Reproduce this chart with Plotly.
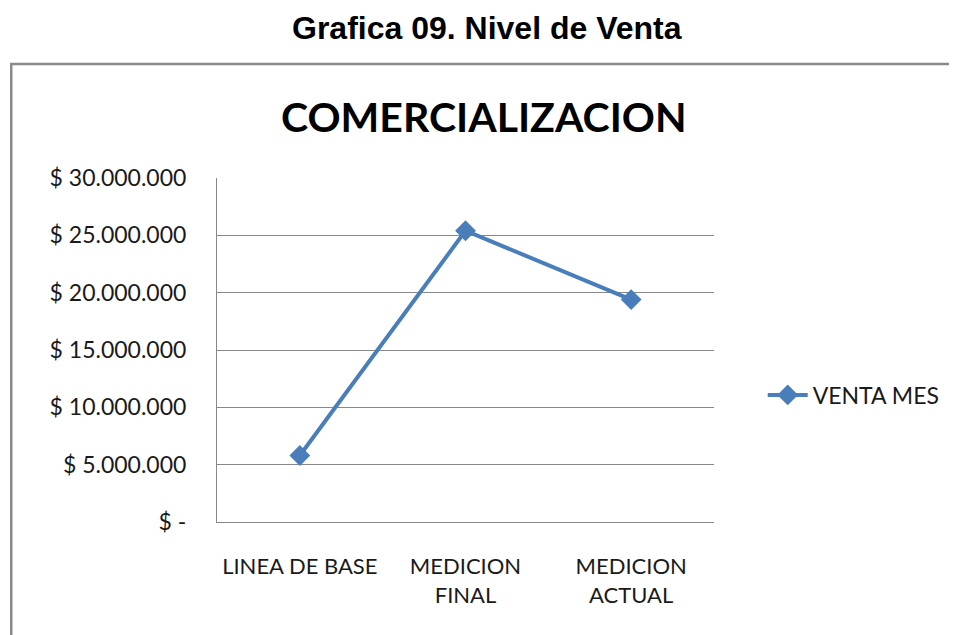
import plotly.graph_objects as go

categories = ["LINEA DE BASE", "MEDICION<br>FINAL", "MEDICION<br>ACTUAL"]
venta_mes = [5800000, 25400000, 19400000]
tick_vals = [0, 5000000, 10000000, 15000000, 20000000, 25000000, 30000000]
tick_text = ["$ -", "$ 5.000.000", "$ 10.000.000", "$ 15.000.000",
             "$ 20.000.000", "$ 25.000.000", "$ 30.000.000"]

OFF = 8  # page body margin
W, H = 957 - OFF, 635 - OFF
# plot area in screen pixels: x 217..717, y 178..522
L, T = 217 - OFF, 178 - OFF
R = W - (717 - OFF)
B = H - (522 - OFF)
pw, ph = W - L - R, H - T - B

def px(x):
    return (x - OFF - L) / pw

def py(y):
    return (H - B - (y - OFF)) / ph

blue = "#4A7EBB"
font_body = "Lato"
txt = "#1a1a1a"

fig = go.Figure()
fig.add_trace(go.Scatter(
    x=categories, y=venta_mes, mode="lines+markers", name="VENTA MES",
    line=dict(color=blue, width=4),
    marker=dict(symbol="diamond", size=16, color=blue),
))

fig.update_layout(
    width=W, height=H,
    margin=dict(l=L, r=R, t=T, b=B),
    paper_bgcolor="white", plot_bgcolor="white",
    showlegend=True,
    legend=dict(x=px(766), y=py(395), xanchor="left", yanchor="middle",
                font=dict(family=font_body, size=23, color=txt),
                bgcolor="rgba(0,0,0,0)", itemwidth=40),
    xaxis=dict(range=[-0.5, 2.5], showline=True, linecolor="#888", linewidth=1,
               showgrid=False, ticks="",
               tickfont=dict(family=font_body, size=22, color=txt),
               ticklabelstandoff=25),
    yaxis=dict(range=[0, 30000000], tickvals=tick_vals, ticktext=tick_text,
               showline=True, linecolor="#888", linewidth=1,
               showgrid=True, gridcolor="#888", gridwidth=1, zeroline=False,
               ticks="", tickfont=dict(family=font_body, size=23, color=txt),
               ticklabelstandoff=25),
)

# outer chart border
fig.add_shape(type="rect", xref="paper", yref="paper",
              x0=px(10), x1=px(975), y0=py(655), y1=py(64),
              line=dict(color="#8A8A8A", width=2.5), fillcolor="rgba(0,0,0,0)",
              layer="below")

fig.add_annotation(text="<b>Grafica 09. Nivel de Venta</b>", xref="paper", yref="paper",
                   x=px(489), y=py(28), xanchor="center", yanchor="middle",
                   showarrow=False,
                   font=dict(family="Liberation Sans", size=32, color="black"))
fig.add_annotation(text="<b>COMERCIALIZACION</b>", xref="paper", yref="paper",
                   x=px(486), y=py(117), xanchor="center", yanchor="middle",
                   showarrow=False,
                   font=dict(family=font_body, size=41, color="black"))

fig.write_html("out.html")
